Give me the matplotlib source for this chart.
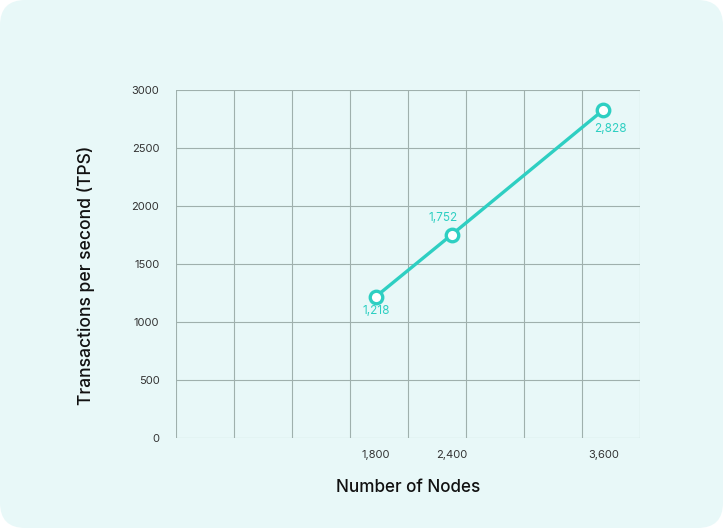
import matplotlib
matplotlib.use("Agg")
import matplotlib.pyplot as plt
from matplotlib.patches import FancyBboxPatch

nodes = [1800, 2400, 3600]
tps = [1218, 1752, 2828]
tick_labels = ["1,800", "2,400", "3,600"]
value_labels = ["1,218", "1,752", "2,828"]
label_offsets = [(1, -14), (-8, 17), (7, -19)]
y_ticks = [0, 500, 1000, 1500, 2000, 2500, 3000]

plt.rcParams['font.family'] = ['Inter', 'DejaVu Sans']

W, H = 723, 528
fig = plt.figure(figsize=(W / 100, H / 100), dpi=100)
fig.patch.set_facecolor("white")
bg = FancyBboxPatch((0, 0), 1, 1, boxstyle="round,pad=0,rounding_size=0.035",
                    transform=fig.transFigure, facecolor="#e8f8f8", edgecolor="none",
                    mutation_aspect=W / H, zorder=-10)
fig.patches.append(bg)

left, right, top, bottom = 176, 640, 90, 438
ax = fig.add_axes([left / W, 1 - bottom / H, (right - left) / W, (bottom - top) / H])
ax.set_facecolor("none")

teal = "#2ecfc2"
grid_c = "#9fb0ad"

xmin, xmax = 220.6, 3890
ax.set_xlim(xmin, xmax)
ax.set_ylim(0, 3000)

# grid
for i in range(9):
    gx = xmin + i * (xmax - xmin) / 8
    ax.axvline(gx, color=grid_c, lw=0.8, zorder=1)
for yv in y_ticks:
    ax.axhline(yv, color=grid_c, lw=0.8, zorder=1)

ax.plot(nodes, tps, color=teal, lw=2.4, marker="o", markersize=9,
        markerfacecolor="white", markeredgecolor=teal, markeredgewidth=2.4,
        zorder=5, clip_on=False)

for x, y, t, (dx, dy) in zip(nodes, tps, value_labels, label_offsets):
    ax.annotate(t, (x, y), xytext=(dx * 0.72, dy * 0.72), textcoords="offset points",
                ha="center", va="center", color=teal, fontsize=8.5)

for s in ax.spines.values():
    s.set_visible(False)

ax.set_xticks(nodes)
ax.set_xticklabels(tick_labels)
ax.set_yticks(y_ticks)
ax.set_yticklabels([str(v) for v in y_ticks])
ax.tick_params(length=0, labelsize=8, labelcolor="#333333")
ax.tick_params(axis="x", pad=9)
ax.tick_params(axis="y", pad=12)

ax.set_xlabel("Number of Nodes", fontsize=12.3, color="#111111", fontweight="medium", va="center")
ax.xaxis.set_label_coords(0.5, -(487 - bottom) / (bottom - top))
ax.set_ylabel("Transactions per second (TPS)", fontsize=12.6, color="#111111", fontweight="medium", va="center")
ax.yaxis.set_label_coords(-(left - 86) / (right - left), 1 - (275 - top) / (bottom - top))

fig.savefig("out.png", dpi=100)
